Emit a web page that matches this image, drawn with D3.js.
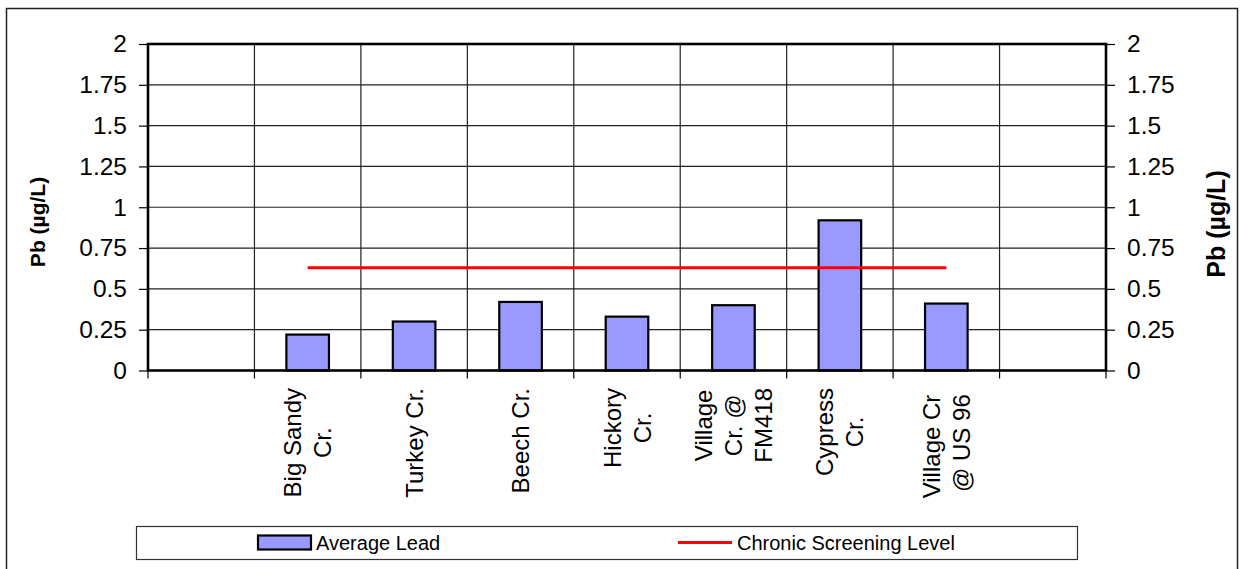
<!DOCTYPE html>
<html>
<head>
<meta charset="utf-8">
<script src="https://cdn.jsdelivr.net/npm/d3@7"></script>
<style>
  body { margin: 0; background: #fff; }
  svg text { font-family: Arial, "Liberation Sans", sans-serif; fill: #000; }
</style>
</head>
<body>
<svg id="chart" width="1241" height="569"></svg>
<script>
// Sampling sites (blank slots at both ends leave empty bands)
const categories = ["", "Big Sandy Cr.", "Turkey Cr.", "Beech Cr.", "Hickory Cr.",
  "Village Cr. @ FM418", "Cypress Cr.", "Village Cr @ US 96", ""];
// Wrapped label lines for each site
const categoryLines = [[], ["Big Sandy", "Cr."], ["Turkey Cr."], ["Beech Cr."], ["Hickory", "Cr."],
  ["Village", "Cr. @", "FM418"], ["Cypress", "Cr."], ["Village Cr ", "@ US 96"], []];
// Average lead concentration, µg/L
const averageLead = [null, 0.22, 0.30, 0.42, 0.33, 0.40, 0.92, 0.41, null];
// Chronic screening level, µg/L
const chronicScreening = [null, 0.63, 0.63, 0.63, 0.63, 0.63, 0.63, 0.63, null];
const yTicks = [0, 0.25, 0.5, 0.75, 1, 1.25, 1.5, 1.75, 2];
const yTickLabels = ["0", "0.25", "0.5", "0.75", "1", "1.25", "1.5", "1.75", "2"];
const seriesNames = ["Average Lead", "Chronic Screening Level"];
const axisTitle = "Pb (µg/L)";

const svg = d3.select("#chart");
const plot = { left: 148, right: 1106, top: 44, bottom: 370.5 };

// Outer chart border
svg.append("rect")
  .attr("x", 6.5).attr("y", 8.5).attr("width", 1231).attr("height", 620)
  .attr("fill", "#fff").attr("stroke", "#222").attr("stroke-width", 1.5);

const idx = d3.range(categories.length);
const x = d3.scaleBand().domain(idx).range([plot.left, plot.right]).padding(0);
const y = d3.scaleLinear().domain([0, 2]).range([plot.bottom, plot.top]);

// Horizontal gridlines
svg.append("g").selectAll("line").data(yTicks).join("line")
  .attr("x1", plot.left).attr("x2", plot.right)
  .attr("y1", d => y(d)).attr("y2", d => y(d))
  .attr("stroke", "#222").attr("stroke-width", 1.2);

// Vertical gridlines at band boundaries
const bounds = idx.map(i => x(i)).concat([x(idx[idx.length - 1]) + x.bandwidth()]);
svg.append("g").selectAll("line").data(bounds).join("line")
  .attr("x1", d => d).attr("x2", d => d)
  .attr("y1", plot.top).attr("y2", plot.bottom)
  .attr("stroke", "#222").attr("stroke-width", 1.2);

// Bars
const barW = x.bandwidth() * 0.4;
svg.append("g").selectAll("rect")
  .data(idx.filter(i => averageLead[i] != null)).join("rect")
  .attr("x", i => x(i) + (x.bandwidth() - barW) / 2)
  .attr("y", i => y(averageLead[i]))
  .attr("width", barW)
  .attr("height", i => y(0) - y(averageLead[i]))
  .attr("fill", "#9999FF").attr("stroke", "#000").attr("stroke-width", 2.2);

// Screening level line
const lineGen = d3.line()
  .defined(i => chronicScreening[i] != null)
  .x(i => x(i) + x.bandwidth() / 2)
  .y(i => y(chronicScreening[i]));
svg.append("path").datum(idx).attr("d", lineGen)
  .attr("fill", "none").attr("stroke", "#FF0000").attr("stroke-width", 3);

// Plot frame
svg.append("rect")
  .attr("x", plot.left).attr("y", plot.top)
  .attr("width", plot.right - plot.left).attr("height", plot.bottom - plot.top)
  .attr("fill", "none").attr("stroke", "#000").attr("stroke-width", 2.6);

// Y axes (left and right)
function styleAxis(g) {
  g.select(".domain").remove();
  g.selectAll(".tick line").attr("stroke", "#000").attr("stroke-width", 1.2);
  g.selectAll(".tick text").attr("font-size", 24.5).style("font-family", "Arial, 'Liberation Sans', sans-serif");
}
svg.append("g").attr("transform", `translate(${plot.left},0)`)
  .call(d3.axisLeft(y).tickValues(yTicks).tickFormat((d, i) => yTickLabels[i]).tickSize(9).tickPadding(12))
  .call(styleAxis);
svg.append("g").attr("transform", `translate(${plot.right},0)`)
  .call(d3.axisRight(y).tickValues(yTicks).tickFormat((d, i) => yTickLabels[i]).tickSize(9).tickPadding(12))
  .call(styleAxis);

// X tick marks at band boundaries
svg.append("g").selectAll("line").data(bounds).join("line")
  .attr("x1", d => d).attr("x2", d => d)
  .attr("y1", plot.bottom).attr("y2", plot.bottom + 8)
  .attr("stroke", "#000").attr("stroke-width", 1.2);

// Rotated category labels, lines centred on each other, block top just below axis
const labelTop = 388, lineH = 30, labelFs = 24;
idx.forEach(i => {
  const lines = categoryLines[i];
  if (!lines.length) return;
  const cx = x(i) + x.bandwidth() / 2;
  const g = svg.append("g").attr("transform", `translate(${cx},${labelTop}) rotate(-90)`);
  const texts = g.selectAll("text").data(lines).join("text")
    .attr("font-size", labelFs)
    .attr("text-anchor", "middle")
    .attr("dominant-baseline", "central")
    .style("white-space", "pre")
    .attr("y", (d, k) => (k - (lines.length - 1) / 2) * lineH)
    .text(d => d);
  const maxLen = d3.max(texts.nodes(), n => n.getComputedTextLength());
  texts.attr("x", -maxLen / 2);
});

// Axis titles
svg.append("text")
  .attr("transform", "translate(37,222) rotate(-90)")
  .attr("text-anchor", "middle").attr("dominant-baseline", "central")
  .attr("font-size", 21).attr("font-weight", "bold").text(axisTitle);
svg.append("text")
  .attr("transform", "translate(1216,224) rotate(-90)")
  .attr("text-anchor", "middle").attr("dominant-baseline", "central")
  .attr("font-size", 25).attr("font-weight", "bold").text(axisTitle);

// Legend
const lg = svg.append("g");
lg.append("rect").attr("x", 136.5).attr("y", 526.5).attr("width", 941).attr("height", 33)
  .attr("fill", "#fff").attr("stroke", "#333").attr("stroke-width", 1.2);
lg.append("rect").attr("x", 258).attr("y", 535.5).attr("width", 53).attr("height", 14)
  .attr("fill", "#9999FF").attr("stroke", "#000").attr("stroke-width", 2.2);
lg.append("text").attr("x", 316).attr("y", 543).attr("dominant-baseline", "central")
  .attr("font-size", 20).text(seriesNames[0]);
lg.append("line").attr("x1", 678).attr("x2", 732).attr("y1", 542.5).attr("y2", 542.5)
  .attr("stroke", "#FF0000").attr("stroke-width", 3);
lg.append("text").attr("x", 737).attr("y", 543).attr("dominant-baseline", "central")
  .attr("font-size", 20).text(seriesNames[1]);
</script>
</body>
</html>
